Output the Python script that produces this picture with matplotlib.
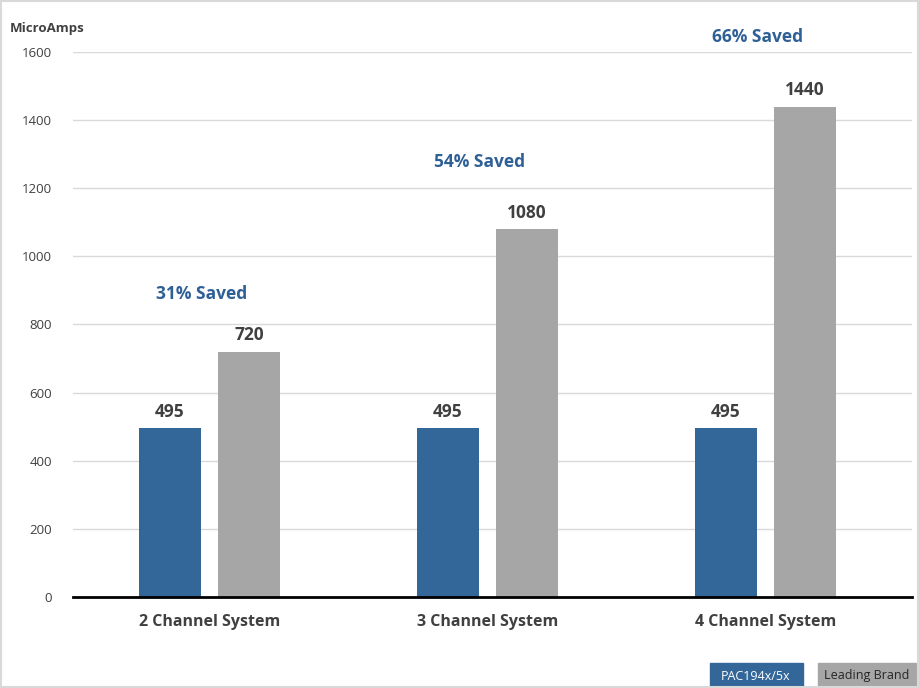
import numpy as np
import matplotlib.pyplot as plt
from matplotlib.patches import Rectangle

plt.rcParams['font.family'] = ['Open Sans', 'DejaVu Sans']

categories = ['2 Channel System', '3 Channel System', '4 Channel System']
pac = [495, 495, 495]
leading = [720, 1080, 1440]
saved = ['31% Saved', '54% Saved', '66% Saved']
saved_y = [890, 1278, 1645]
yticks = [0, 200, 400, 600, 800, 1000, 1200, 1400, 1600]

blue = '#336699'
grey = '#a6a6a6'
txt = '#404040'

fig = plt.figure(figsize=(9.19, 6.88), dpi=100)
ax = fig.add_axes([0.0794, 0.1323, 0.913, 0.7921])

x = np.arange(len(categories))
w = 0.223
off = 0.142
ax.bar(x - off, pac, w, color=blue, zorder=3)
ax.bar(x + off, leading, w, color=grey, zorder=3)

for i in range(len(categories)):
    ax.text(x[i] - off, pac[i] + 22, str(pac[i]), ha='center', va='bottom',
            fontsize=12.5, fontweight='bold', color=txt)
    ax.text(x[i] + off, leading[i] + 22, str(leading[i]), ha='center', va='bottom',
            fontsize=12.5, fontweight='bold', color=txt)
    ax.text(x[i] - 0.03, saved_y[i], saved[i], ha='center', va='center',
            fontsize=12.5, fontweight='bold', color='#2e6096', clip_on=False)

ax.set_xlim(-0.491, 2.527)
ax.set_ylim(0, 1600)
ax.set_yticks(yticks)
ax.set_yticklabels([str(t) for t in yticks], fontsize=9.5, color=txt)
ax.set_xticks(x)
ax.set_xticklabels(categories, fontsize=11.5, fontweight='bold', color=txt)
ax.tick_params(axis='y', length=0, pad=15)
ax.tick_params(axis='x', length=0, pad=12)
ax.grid(axis='y', color='#d9d9d9', linewidth=1, zorder=0)
for s in ['top', 'right', 'left']:
    ax.spines[s].set_visible(False)
ax.spines['bottom'].set_color('black')
ax.spines['bottom'].set_linewidth(2)
ax.spines['bottom'].set_zorder(4)

fig.text(0.011, 0.958, 'MicroAmps', fontsize=9.5, fontweight='bold', color=txt,
         ha='left', va='center')

# legend boxes
fig.patches.append(Rectangle((710 / 919, 0), 93 / 919, 25 / 688, transform=fig.transFigure,
                             color=blue, zorder=1))
fig.patches.append(Rectangle((818 / 919, 0), 98 / 919, 25 / 688, transform=fig.transFigure,
                             color=grey, zorder=1))
fig.text(756 / 919, 12 / 688, 'PAC194x/5x', fontsize=9, color='white',
         ha='center', va='center', zorder=10)
fig.text(867 / 919, 12 / 688, 'Leading Brand', fontsize=9, color='#262626',
         ha='center', va='center', zorder=10)

# light frame
fig.patches.append(Rectangle((0.001, 0.001), 0.998, 0.998, transform=fig.transFigure,
                             fill=False, edgecolor='#d9d9d9', linewidth=1.5))

fig.savefig('out.png', dpi=100)
